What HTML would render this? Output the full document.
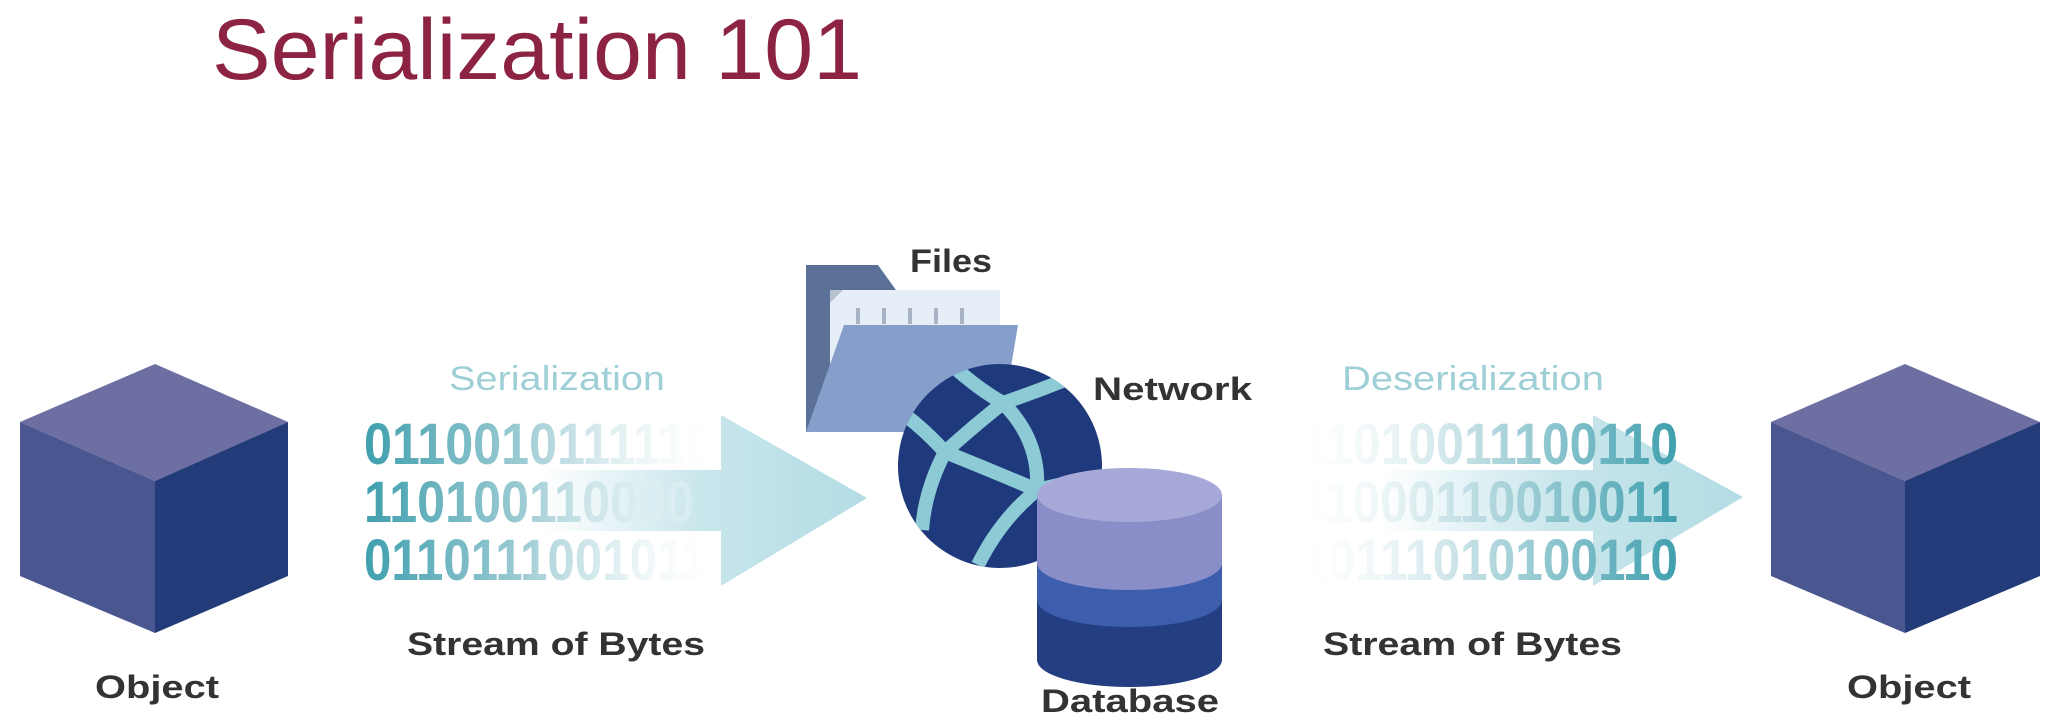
<!DOCTYPE html>
<html><head><meta charset="utf-8"><style>
html,body{margin:0;padding:0;background:#fff;}
svg{display:block;}
</style></head><body>
<svg width="2054" height="720" viewBox="0 0 2054 720" xmlns="http://www.w3.org/2000/svg">
<defs>
<linearGradient id="binL" x1="364" y1="0" x2="714" y2="0" gradientUnits="userSpaceOnUse">
<stop offset="0" stop-color="#3f9fae"/><stop offset="0.45" stop-color="#9ccbd3"/><stop offset="1" stop-color="#ffffff" stop-opacity="0.2"/></linearGradient>
<linearGradient id="binR" x1="1300" y1="0" x2="1678" y2="0" gradientUnits="userSpaceOnUse">
<stop offset="0" stop-color="#ffffff" stop-opacity="0.2"/><stop offset="0.55" stop-color="#a8d2d9"/><stop offset="1" stop-color="#3f9fae"/></linearGradient>
<linearGradient id="arrL" x1="540" y1="0" x2="867" y2="0" gradientUnits="userSpaceOnUse">
<stop offset="0" stop-color="#c5e4ea" stop-opacity="0"/><stop offset="0.5" stop-color="#c8e6ec"/><stop offset="1" stop-color="#b3dce4"/></linearGradient>
<linearGradient id="arrR" x1="1380" y1="0" x2="1743" y2="0" gradientUnits="userSpaceOnUse">
<stop offset="0" stop-color="#c5e4ea" stop-opacity="0"/><stop offset="0.5" stop-color="#c8e6ec"/><stop offset="1" stop-color="#b3dce4"/></linearGradient>
<clipPath id="globe"><circle cx="1000" cy="466" r="102"/></clipPath>
</defs>

<text x="212" y="79" font-family="Liberation Sans, sans-serif" font-size="86" fill="#8d2342" textLength="650" lengthAdjust="spacingAndGlyphs">Serialization 101</text>

<!-- left cube -->
<polygon points="155,364 288,422 155,481 20,422" fill="#6d6ea1"/>
<polygon points="20,422 155,481 155,633 20,576" fill="#4a568f"/>
<polygon points="155,481 288,422 288,576 155,633" fill="#233b78"/>
<text x="157" y="698" text-anchor="middle" font-family="Liberation Sans, sans-serif" font-weight="bold" font-size="32" fill="#333" textLength="124" lengthAdjust="spacingAndGlyphs">Object</text>

<!-- right cube -->
<polygon points="1905,364 2040,422 1905,481 1771,422" fill="#6d6ea1"/>
<polygon points="1771,422 1905,481 1905,633 1771,576" fill="#4a568f"/>
<polygon points="1905,481 2040,422 2040,576 1905,633" fill="#233b78"/>
<text x="1909" y="698" text-anchor="middle" font-family="Liberation Sans, sans-serif" font-weight="bold" font-size="32" fill="#333" textLength="124" lengthAdjust="spacingAndGlyphs">Object</text>

<!-- left arrow -->
<polygon points="540,470 721,470 721,415 867,498 721,586 721,531 540,531" fill="url(#arrL)"/>
<text x="449" y="390" font-family="Liberation Sans, sans-serif" font-size="34" fill="#9fcfd6" textLength="216" lengthAdjust="spacingAndGlyphs">Serialization</text>
<g font-family="Liberation Sans, sans-serif" font-weight="bold" font-size="58" fill="url(#binL)">
<text x="364" y="464" textLength="350" lengthAdjust="spacingAndGlyphs">0110010111110</text>
<text x="364" y="522" textLength="330" lengthAdjust="spacingAndGlyphs">110100110000</text>
<text x="364" y="580" textLength="345" lengthAdjust="spacingAndGlyphs">0110111001011</text>
</g>
<text x="407" y="655" font-family="Liberation Sans, sans-serif" font-weight="bold" font-size="32" fill="#333" textLength="298" lengthAdjust="spacingAndGlyphs">Stream of Bytes</text>

<!-- folder -->
<path d="M806,265 L878,265 L896,290 L1000,290 L1000,432 L806,432 Z" fill="#5b7197"/>
<rect x="830" y="290" width="170" height="120" fill="#e6eef7"/>
<polygon points="830,290 843,290 830,303" fill="#b8c2d0"/>
<g fill="#a8b3c4"><rect x="856" y="308" width="4" height="16"/><rect x="882" y="308" width="4" height="16"/><rect x="908" y="308" width="4" height="16"/><rect x="934" y="308" width="4" height="16"/><rect x="960" y="308" width="4" height="16"/></g>
<polygon points="844,325 1018,325 1000,432 806,432" fill="#869fca"/>
<text x="910" y="272" font-family="Liberation Sans, sans-serif" font-weight="bold" font-size="32" fill="#333" textLength="82" lengthAdjust="spacingAndGlyphs">Files</text>

<!-- globe -->
<circle cx="1000" cy="466" r="102" fill="#1f3a7c"/>
<g clip-path="url(#globe)" stroke="#8ccbd6" stroke-width="14" fill="none" stroke-linejoin="round">
<path d="M955,368 Q980,390 1003,403"/>
<path d="M1003,403 Q1035,392 1065,380"/>
<path d="M1003,403 Q975,425 945,452"/>
<path d="M905,415 Q925,430 945,452"/>
<path d="M1003,403 Q1040,440 1037,490"/>
<path d="M945,452 Q990,470 1037,490"/>
<path d="M945,452 Q925,490 922,530"/>
<path d="M1037,490 Q1000,520 978,565"/>
<path d="M1037,490 L1080,480"/>
</g>
<text x="1093" y="400" font-family="Liberation Sans, sans-serif" font-weight="bold" font-size="32" fill="#333" textLength="159" lengthAdjust="spacingAndGlyphs">Network</text>

<!-- database -->
<path d="M1037,600 L1037,660 A92.5,27 0 0 0 1222,660 L1222,600 Z" fill="#233f82"/>
<path d="M1037,563 L1037,600 A92.5,27 0 0 0 1222,600 L1222,563 Z" fill="#3c5ead"/>
<path d="M1037,495 L1037,563 A92.5,27 0 0 0 1222,563 L1222,495 Z" fill="#8a8ec8"/>
<ellipse cx="1129.5" cy="495" rx="92.5" ry="27" fill="#a6a8d8"/>
<text x="1041" y="712" font-family="Liberation Sans, sans-serif" font-weight="bold" font-size="32" fill="#333" textLength="178" lengthAdjust="spacingAndGlyphs">Database</text>

<!-- right arrow -->
<polygon points="1380,470 1593,470 1593,415 1743,497 1593,586 1593,531 1380,531" fill="url(#arrR)"/>
<text x="1342" y="390" font-family="Liberation Sans, sans-serif" font-size="34" fill="#9fcfd6" textLength="262" lengthAdjust="spacingAndGlyphs">Deserialization</text>
<g font-family="Liberation Sans, sans-serif" font-weight="bold" font-size="58" fill="url(#binR)">
<text x="1300" y="464" textLength="378" lengthAdjust="spacingAndGlyphs">11010011100110</text>
<text x="1300" y="522" textLength="378" lengthAdjust="spacingAndGlyphs">11000110010011</text>
<text x="1300" y="580" textLength="378" lengthAdjust="spacingAndGlyphs">10111010100110</text>
</g>
<text x="1323" y="655" font-family="Liberation Sans, sans-serif" font-weight="bold" font-size="32" fill="#333" textLength="299" lengthAdjust="spacingAndGlyphs">Stream of Bytes</text>
</svg>
</body></html>
